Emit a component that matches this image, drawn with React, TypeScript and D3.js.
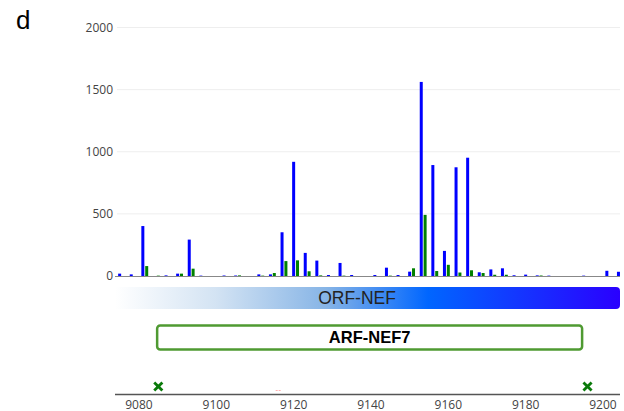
import React, { Component } from "react";
import * as d3 from "d3";

// codon positions (frame 0 = blue, frame 1 = green at pos + 1)
const codonPositions = [
  9075, 9078, 9081, 9084, 9087, 9090, 9093, 9096, 9099, 9102, 9105, 9108,
  9111, 9114, 9117, 9120, 9123, 9126, 9129, 9132, 9135, 9138, 9141, 9144,
  9147, 9150, 9153, 9156, 9159, 9162, 9165, 9168, 9171, 9174, 9177, 9180,
  9183, 9186, 9189, 9192, 9195, 9198, 9201, 9204,
];
const frame0Reads = [
  19, 13, 402, 0, 5, 19, 293, 3, 0, 4, 4, 0, 13, 13, 352, 919, 186, 124, 8,
  105, 8, 0, 8, 67, 8, 35, 1562, 893, 202, 875, 952, 30, 53, 62, 6, 11, 5, 3,
  0, 0, 3, 0, 42, 34,
];
const frame1Reads = [
  0, 0, 80, 3, 0, 19, 59, 0, 0, 0, 5, 0, 3, 24, 120, 126, 38, 5, 0, 3, 0, 0,
  0, 3, 0, 62, 492, 40, 90, 28, 46, 24, 10, 10, 0, 0, 4, 0, 0, 0, 0, 0, 0, 0,
];

const yTicks = [0, 500, 1000, 1500, 2000];
const xTicks = [9080, 9100, 9120, 9140, 9160, 9180, 9200];

const orfName = "ORF-NEF";
const orfLabelAt = 9136.4;
const arfName = "ARF-NEF7";
const arfRange = [9084.7, 9194.6];
const startCodons = [9085, 9196];
const stopCodons = [9116];

class RiboChart extends Component {
  chRef: React.RefObject<SVGSVGElement>;

  constructor(props: any) {
    super(props);
    this.chRef = React.createRef();
  }

  componentDidMount(): any {
    this.drawChart();
  }

  drawChart(): any {
    const svg = d3.select(this.chRef.current);
    svg.selectAll("*").remove();

    const x = d3.scaleLinear().domain([9073.8, 9204.4]).range([115, 620]);
    const y = d3.scaleLinear().domain([0, 2000]).range([276, 27.5]);
    const barW = 3;

    // panel letter
    svg
      .append("text")
      .attr("x", 16)
      .attr("y", 29)
      .text("d")
      .style("font-family", "Liberation Sans, Arial, sans-serif")
      .style("font-size", 26)
      .style("fill", "#000");

    // grid
    svg
      .selectAll(".grid")
      .data(yTicks.filter((t) => t > 0))
      .enter()
      .append("line")
      .attr("x1", 117)
      .attr("x2", 620)
      .attr("y1", (d) => y(d))
      .attr("y2", (d) => y(d))
      .attr("stroke", "#eee")
      .attr("stroke-width", 1);

    // y tick labels
    svg
      .selectAll(".ylab")
      .data(yTicks)
      .enter()
      .append("text")
      .attr("x", 113)
      .attr("y", (d) => y(d))
      .attr("dy", "0.36em")
      .attr("text-anchor", "end")
      .text((d) => String(d))
      .style("font-family", "Open Sans, sans-serif")
      .style("font-size", 12)
      .style("fill", "#444");

    // zero line
    svg
      .append("line")
      .attr("x1", 115)
      .attr("x2", 620)
      .attr("y1", y(0) + 0.5)
      .attr("y2", y(0) + 0.5)
      .attr("stroke", "#888")
      .attr("stroke-width", 1);

    // frame 0 bars
    svg
      .selectAll(".f0")
      .data(codonPositions)
      .enter()
      .append("rect")
      .attr("x", (d) => x(d) - barW / 2)
      .attr("width", barW)
      .attr("y", (d, i) => y(frame0Reads[i]))
      .attr("height", (d, i) => y(0) - y(frame0Reads[i]))
      .attr("fill", "#0000ff");

    // frame 1 bars
    svg
      .selectAll(".f1")
      .data(codonPositions)
      .enter()
      .append("rect")
      .attr("x", (d) => x(d + 1) - barW / 2)
      .attr("width", barW)
      .attr("y", (d, i) => y(frame1Reads[i]))
      .attr("height", (d, i) => y(0) - y(frame1Reads[i]))
      .attr("fill", "#008000");

    // ORF gradient bar
    const defs = svg.append("defs");
    const grad = defs
      .append("linearGradient")
      .attr("id", "orfGrad")
      .attr("x1", "0%")
      .attr("x2", "100%");
    [
      ["0%", "#ffffff"],
      ["20%", "#d3e3f3"],
      ["42%", "#86b4e6"],
      ["62%", "#0066ff"],
      ["100%", "#2a00ff"],
    ].forEach(([o, c]) => grad.append("stop").attr("offset", o).attr("stop-color", c));

    const [x0, x1] = x.range();
    svg
      .append("path")
      .attr(
        "d",
        `M${x0},287 H${x1 - 4} Q${x1},287 ${x1},291 V305 Q${x1},309 ${x1 - 4},309 H${x0} Z`
      )
      .attr("fill", "url(#orfGrad)");
    svg
      .append("text")
      .attr("x", x(orfLabelAt))
      .attr("y", 304)
      .attr("text-anchor", "middle")
      .text(orfName)
      .style("font-family", "Liberation Sans, Arial, sans-serif")
      .style("font-size", 17.5)
      .style("fill", "#222");

    // ARF box
    const ax0 = x(arfRange[0]);
    const ax1 = x(arfRange[1]);
    svg
      .append("rect")
      .attr("x", ax0)
      .attr("y", 325.5)
      .attr("width", ax1 - ax0)
      .attr("height", 24)
      .attr("rx", 3)
      .attr("fill", "#fff")
      .attr("stroke", "#4f9a32")
      .attr("stroke-width", 2.5);
    svg
      .append("text")
      .attr("x", (ax0 + ax1) / 2)
      .attr("y", 343)
      .attr("text-anchor", "middle")
      .text(arfName)
      .style("font-family", "Liberation Sans, Arial, sans-serif")
      .style("font-size", 16.5)
      .style("font-weight", "bold")
      .style("fill", "#000");

    // codon markers
    const cross = d3.symbol().type(d3.symbolX).size(45);
    svg
      .selectAll(".start")
      .data(startCodons)
      .enter()
      .append("path")
      .attr("d", cross)
      .attr("transform", (d) => `translate(${x(d)},386.5)`)
      .attr("stroke", "#0a7a0a")
      .attr("stroke-width", 2.8)
      .attr("fill", "none");
    svg
      .selectAll(".stop")
      .data(stopCodons)
      .enter()
      .append("line")
      .attr("x1", (d) => x(d) - 2.5)
      .attr("x2", (d) => x(d) + 2.5)
      .attr("y1", 390.5)
      .attr("y2", 390.5)
      .attr("stroke", "#ffb0b0")
      .attr("stroke-width", 1)
      .attr("stroke-dasharray", "2,1");

    // bottom axis
    svg
      .append("line")
      .attr("x1", 115)
      .attr("x2", 620)
      .attr("y1", 394.5)
      .attr("y2", 394.5)
      .attr("stroke", "#555")
      .attr("stroke-width", 1.5);
    svg
      .selectAll(".xlab")
      .data(xTicks)
      .enter()
      .append("text")
      .attr("x", (d) => x(d))
      .attr("y", 408.5)
      .attr("text-anchor", "middle")
      .text((d) => String(d))
      .style("font-family", "Open Sans, sans-serif")
      .style("font-size", 12)
      .style("fill", "#444");
  }

  render(): any {
    return (
      <svg
        ref={this.chRef}
        width={624}
        height={411}
        style={{ position: "absolute", left: 0, top: 0, background: "#fff" }}
      />
    );
  }
}

export default function App() {
  return <RiboChart />;
}
